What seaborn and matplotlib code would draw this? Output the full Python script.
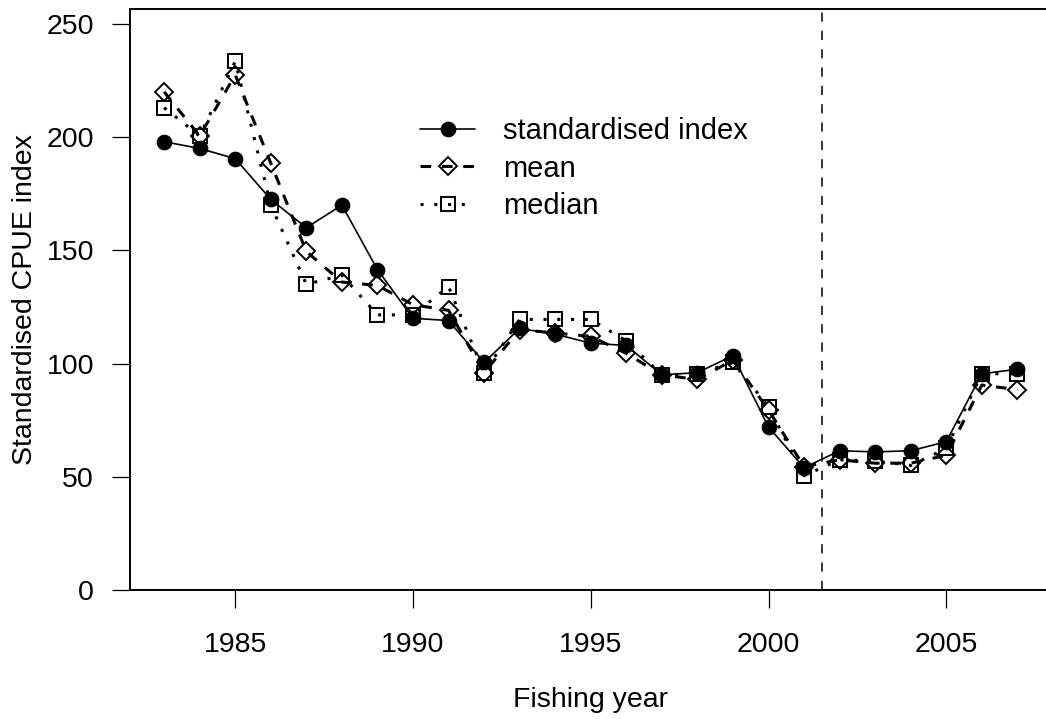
import matplotlib
matplotlib.use("Agg")
import matplotlib.pyplot as plt
import seaborn as sns
import numpy as np

# Fishing years and the three CPUE indices
years = list(range(1983, 2008))
standardised = [198, 195, 190.5, 172.5, 160, 170, 141.5, 120, 119, 100.5, 115.5, 113,
                109, 108, 95, 96, 103.5, 72, 54, 61.5, 61, 61.5, 65.5, 95.5, 97.5]
mean_idx = [220, 200.5, 227.5, 188.5, 149.5, 136, 134.5, 126, 123.5, 96, 115, 113.5,
            112, 104.5, 95, 93, 101.5, 79.5, 54.5, 57.5, 56, 56, 59.5, 90.5, 88.5]
median_idx = [213, 200.5, 233.5, 170, 135, 139, 121.5, 121.5, 134, 96, 119.5, 119.5,
              119.5, 110, 95, 95.5, 100.5, 81, 50.5, 57.5, 57, 55, 62.5, 95.5, 95.5]
series_labels = ["standardised index", "mean", "median"]
split_year = 2001.5

x_ticks = [1985, 1990, 1995, 2000, 2005]
y_ticks = [0, 50, 100, 150, 200, 250]

sns.set_style("ticks")
plt.rcParams["font.family"] = ["Liberation Sans", "DejaVu Sans"]
plt.rcParams.update({"text.color": "black", "axes.labelcolor": "black",
                     "xtick.color": "black", "ytick.color": "black",
                     "axes.edgecolor": "black"})
FS = 20.5

fig = plt.figure(figsize=(10.46, 7.19), dpi=100)
ax = fig.add_axes([130 / 1046, 1 - 590 / 719, 921.5 / 1046, 581 / 719])

sns.lineplot(x=years, y=standardised, ax=ax, color="black", linewidth=1.2,
             marker="o", markersize=10.5, markerfacecolor="black",
             markeredgecolor="black", markeredgewidth=0.8, linestyle="-")
sns.lineplot(x=years, y=mean_idx, ax=ax, color="black", linewidth=2.2,
             linestyle=(0, (3.5, 3.5)), marker="D", markersize=9.5,
             markerfacecolor="none", markeredgecolor="black", markeredgewidth=1.4)
sns.lineplot(x=years, y=median_idx, ax=ax, color="black", linewidth=2.2,
             linestyle=(0, (1, 3.5)), marker="s", markersize=10,
             markerfacecolor="none", markeredgecolor="black", markeredgewidth=1.4)

ax.axvline(split_year, color="black", linewidth=1.1, linestyle=(0, (6, 6)))

ax.set_xlim(1982.04, 2007.96)
ax.set_ylim(0, 256.6)
ax.set_xticks(x_ticks)
ax.set_yticks(y_ticks)
ax.tick_params(axis="both", direction="out", length=13, width=0.9,
               labelsize=FS, color="black", labelcolor="black")
ax.tick_params(axis="x", pad=17)
ax.tick_params(axis="y", pad=13)
for s in ax.spines.values():
    s.set_linewidth(1.4)
    s.set_color("black")

ax.set_xlabel("Fishing year", fontsize=FS, va="center", color="black")
ax.xaxis.set_label_coords(0.5, (590 - 700) / 581)
ax.set_ylabel("Standardised CPUE index", fontsize=FS, va="center", color="black")
ax.yaxis.set_label_coords((25.5 - 130) / 921.5, 0.5)

handles = ax.get_lines()[:3]
leg = ax.legend(handles, series_labels, loc="upper left",
                bbox_to_anchor=(420 / 1046, 1 - 117 / 719), bbox_transform=fig.transFigure,
                frameon=False, fontsize=21, handlelength=1.9, handletextpad=0.95,
                labelspacing=0.33, borderpad=0, borderaxespad=0)
for t in leg.get_texts():
    t.set_color("black")

fig.savefig("out.png", dpi=100)
